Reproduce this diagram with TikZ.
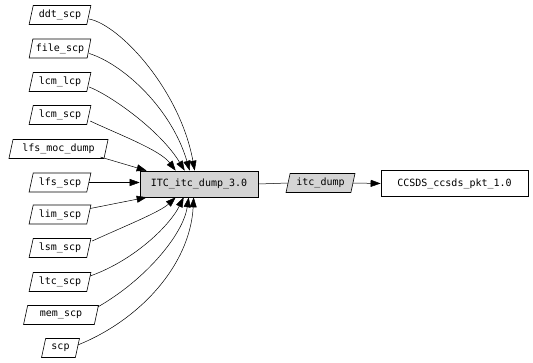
\documentclass[tikz,border=0pt]{standalone}
\usepackage{fontspec}
\setmonofont{DejaVu Sans Mono}
\usetikzlibrary{shapes.geometric,arrows.meta,calc}
\begin{document}
\begin{tikzpicture}[x=1pt,y=-1pt,
  every node/.style={font=\ttfamily\fontsize{10}{12}\selectfont, inner sep=0pt},
  para/.style={draw, trapezium, trapezium left angle=72, trapezium right angle=108,
    trapezium stretches=true, minimum width=62pt, minimum height=19pt, fill=white, line width=0.6pt},
  boxn/.style={draw, rectangle, minimum height=26pt, line width=0.6pt},
  edge/.style={line width=0.5pt},
  arr/.style={edge, -{Triangle[length=10pt,width=7pt]}}
]
\useasboundingbox (0,0) rectangle (533,362);
% left nodes
\node[para] (ddt) at (60,15) {ddt\_scp};
\node[para] (file) at (60,48.5) {file\_scp};
\node[para] (lcmlcp) at (60,82) {lcm\_lcp};
\node[para] (lcmscp) at (60,115) {lcm\_scp};
\node[para, minimum width=100pt] (lfsmoc) at (58.5,149) {lfs\_moc\_dump};
\node[para] (lfs) at (60,182.5) {lfs\_scp};
\node[para] (lim) at (60,214.5) {lim\_scp};
\node[para] (lsm) at (60,248) {lsm\_scp};
\node[para] (ltc) at (60,282) {ltc\_scp};
\node[para, minimum width=75pt] (mem) at (61,315) {mem\_scp};
\node[para, minimum width=38pt] (scp) at (60.5,348) {scp};
% main
\node[boxn, fill=black!17, minimum width=118pt] (itc) at (199,184) {ITC\_itc\_dump\_3.0};
\node[para, fill=black!17, minimum width=69pt] (dump) at (320.5,183) {itc\_dump};
\node[boxn, minimum width=147pt] (ccsds) at (454.5,183.5) {CCSDS\_ccsds\_pkt\_1.0};
% edges into top
\draw[arr] ($(ddt.east)+(0,4)$) .. controls (120,25) and (180,90) .. ([xshift=55pt]itc.north west);
\draw[arr] ($(file.east)+(0,5)$) .. controls (125,65) and (172,110) .. ([xshift=50pt]itc.north west);
\draw[arr] ($(lcmlcp.east)+(0,5)$) .. controls (110,95) and (160,130) .. ([xshift=45pt]itc.north west);
\draw[arr] ($(lcmscp.east)+(1,6)$) .. controls (120,135) and (160,150) .. ([xshift=36pt]itc.north west);
\draw[arr] ($(lfsmoc.east)+(-6,8)$) -- ([xshift=7pt]itc.north west);
\draw[arr] (lfs.east) -- (lfs.east -| itc.west);
% edges into bottom
\draw[arr] ($(lim.east)+(1,-6)$) -- ([xshift=7pt]itc.south west);
\draw[arr] ($(lsm.east)+(3,-7)$) .. controls (125,226) and (160,212) .. ([xshift=36pt]itc.south west);
\draw[arr] ($(ltc.east)+(1,-6)$) .. controls (135,260) and (170,225) .. ([xshift=44pt]itc.south west);
\draw[arr] ($(mem.east)+(1,-8)$) .. controls (145,280) and (183,235) .. ([xshift=49pt]itc.south west);
\draw[arr] ($(scp.east)+(0,-3)$) .. controls (140,320) and (190,265) .. ([xshift=54pt]itc.south west);
% right chain
\draw[edge] (itc.east) -- (dump.west);
\draw[arr] (dump.east) -- (ccsds.west);
\end{tikzpicture}
\end{document}
